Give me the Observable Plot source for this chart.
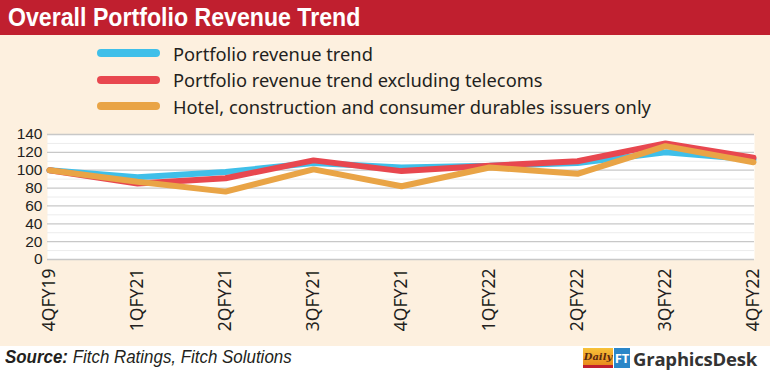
<!DOCTYPE html>
<html>
<head>
<meta charset="utf-8">
<script src="https://cdn.jsdelivr.net/npm/d3@7"></script>
<script src="https://cdn.jsdelivr.net/npm/@observablehq/plot@0.6"></script>
<style>
  html, body { margin: 0; padding: 0; }
  #wrap { position: relative; width: 770px; height: 371px; background: #ffffff; overflow: hidden; font-family: "Noto Sans", sans-serif; }
  #cream { position: absolute; left: 0; top: 35px; width: 770px; height: 311px; background: #fdf0df; }
  #title { position: absolute; left: 0; top: 0; width: 770px; height: 35px; background: #c01f2f; }
  #title span { position: absolute; left: 8px; top: 0; color: #fff; font-family: "Liberation Sans", sans-serif; font-weight: bold; font-size: 26px; line-height: 35px; white-space: nowrap; transform-origin: 0 50%; transform: scaleX(0.89); display: inline-block; }
  .leg { position: absolute; left: 97px; height: 26px; display: flex; align-items: center; font-size: 18.3px; color: #231f20; white-space: nowrap; }
  .leg .sw { width: 63px; height: 8px; border-radius: 4px; margin-right: 13px; }
  #chart { position: absolute; left: 0; top: 120px; }
  #source { position: absolute; left: 5px; top: 346px; font-family: "Liberation Sans", sans-serif; font-style: italic; font-size: 19px; color: #231f20; white-space: nowrap; transform-origin: 0 50%; transform: scaleX(0.89); }
  #logo { position: absolute; left: 583px; top: 348px; height: 20px; display: flex; align-items: center; }
  #logo .daily { background: linear-gradient(#f7c23a, #e98a1c); color: #5a2a10; font-family: "DejaVu Serif", serif; font-style: italic; font-weight: bold; font-size: 10px; width: 30px; height: 20px; line-height: 17px; text-align: center; border-bottom: 3px solid #c01f2f; box-sizing: border-box; overflow: hidden; }
  #logo .ft { background: #2a86c8; color: #fff; font-weight: bold; font-size: 13px; width: 16px; height: 20px; line-height: 20px; text-align: center; margin-left: 1px; }
  #logo .gd { font-family: "Open Sans", sans-serif; font-weight: bold; font-size: 18.5px; color: #333; margin-left: 3px; letter-spacing: -0.2px; }
</style>
</head>
<body>
<div id="wrap">
  <div id="cream"></div>
  <div id="title"><span>Overall Portfolio Revenue Trend</span></div>
  <div id="legend"></div>
  <div id="chart"></div>
  <div id="source"><b>Source:</b> Fitch Ratings, Fitch Solutions</div>
  <div id="logo"><div class="daily">Daily</div><div class="ft">FT</div><div class="gd">GraphicsDesk</div></div>
</div>
<script>
const quarters = ["4QFY19","1QFY21","2QFY21","3QFY21","4QFY21","1QFY22","2QFY22","3QFY22","4QFY22"];
const portfolio = [100, 92, 98, 108, 103, 105, 108, 120, 112];
const exTelecoms = [100, 85, 91, 111, 99, 105, 110, 130, 114];
const hotelOnly = [100, 87, 76, 101, 82, 103, 96, 127, 109];
const seriesNames = ["Portfolio revenue trend", "Portfolio revenue trend excluding telecoms", "Hotel, construction and consumer durables issuers only"];
const seriesColors = ["#3fbfe9", "#e8474f", "#e9a446"];
const yTicks = [0, 20, 40, 60, 80, 100, 120, 140];
const yMinor = [10, 30, 50, 70, 90, 110, 130];

const seriesValues = [portfolio, exTelecoms, hotelOnly];
const rows = [];
seriesValues.forEach((vals, s) => vals.forEach((v, i) => rows.push({q: quarters[i], v, s: seriesNames[s]})));

// legend
const legend = document.getElementById("legend");
seriesNames.forEach((name, i) => {
  const d = document.createElement("div");
  d.className = "leg";
  d.style.top = (40 + i * 26.5) + "px";
  d.innerHTML = `<div class="sw" style="background:${seriesColors[i]}"></div><span>${name}</span>`;
  legend.appendChild(d);
});

const chart = Plot.plot({
  width: 770,
  height: 226,
  marginLeft: 47,
  marginRight: 16,
  marginTop: 14,
  marginBottom: 87,
  style: { background: "transparent", fontFamily: "Noto Sans, sans-serif", color: "#231f20", overflow: "visible" },
  x: { type: "point", domain: quarters, padding: 0, label: null },
  y: { domain: [0, 140], label: null },
  color: { domain: seriesNames, range: seriesColors },
  marks: [
    Plot.frame({ fill: "white", stroke: null }),
    Plot.ruleY(yMinor, { stroke: "#ececec", strokeWidth: 1 }),
    Plot.ruleY(yTicks, { stroke: "#c8c8c8", strokeWidth: 1.3 }),
    Plot.axisY(yTicks, { tickSize: 0, tickPadding: 5, fontSize: 15.5, fontFamily: "Liberation Sans, sans-serif", label: null }),
    Plot.axisX({ tickSize: 0, tickPadding: 9, tickRotate: -90, fontSize: 17.5, label: null }),
    Plot.line(rows.filter(d => d.s === seriesNames[0]), { x: "q", y: "v", stroke: "s", strokeWidth: 6, strokeLinejoin: "miter" }),
    Plot.line(rows.filter(d => d.s === seriesNames[1]), { x: "q", y: "v", stroke: "s", strokeWidth: 6, strokeLinejoin: "miter" }),
    Plot.line(rows.filter(d => d.s === seriesNames[2]), { x: "q", y: "v", stroke: "s", strokeWidth: 6, strokeLinejoin: "miter" })
  ]
});
document.getElementById("chart").appendChild(chart);
</script>
</body>
</html>
